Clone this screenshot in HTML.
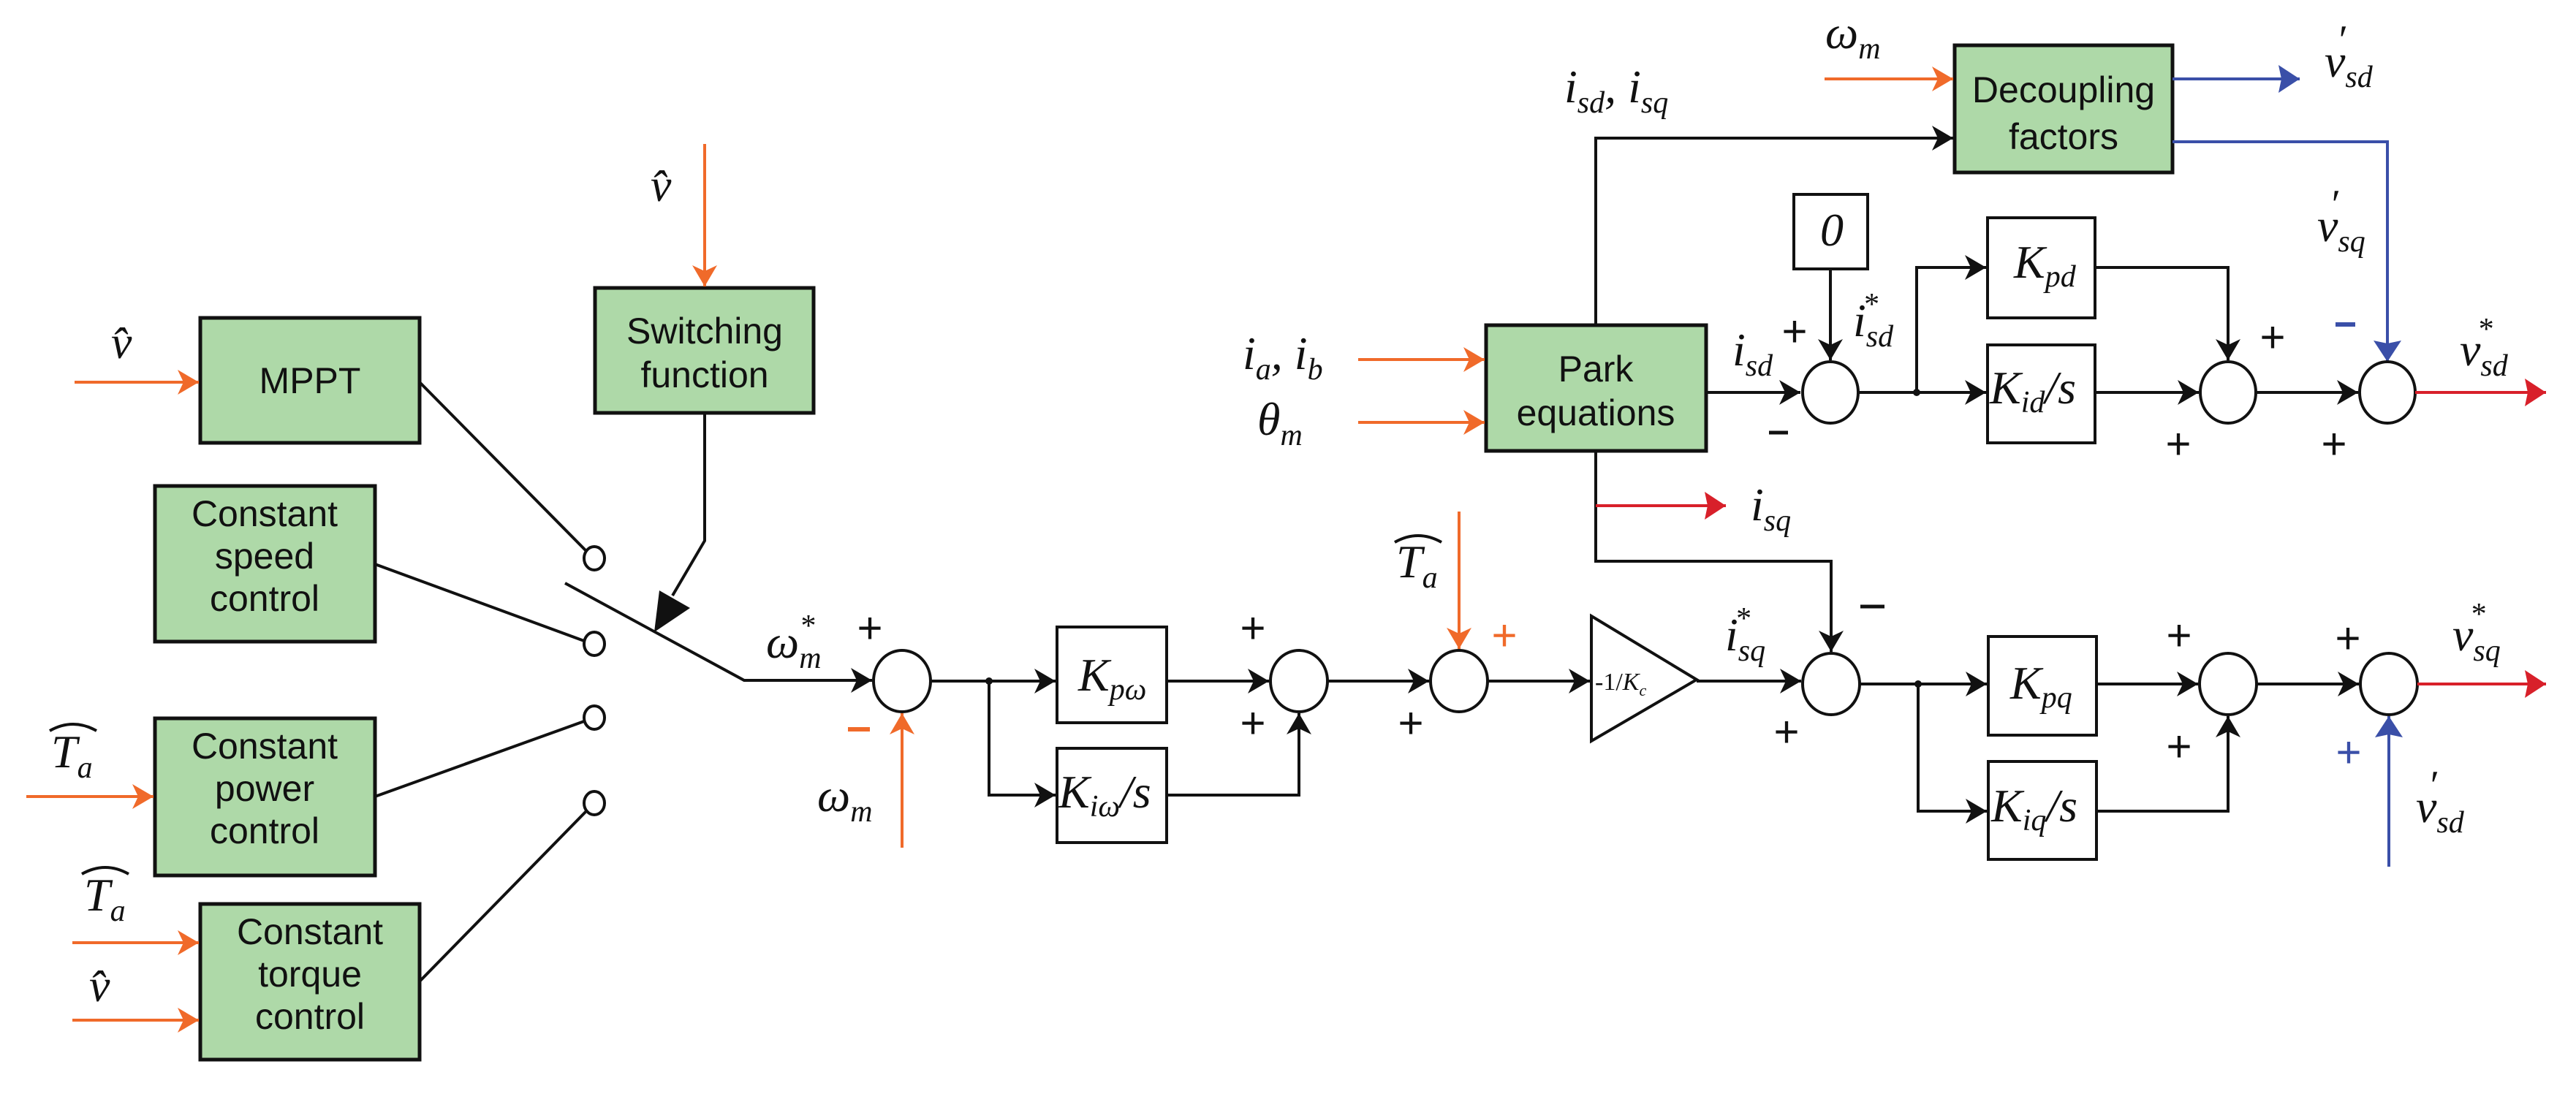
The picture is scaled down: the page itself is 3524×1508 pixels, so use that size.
<!DOCTYPE html>
<html><head><meta charset="utf-8"><style>
html,body{margin:0;padding:0;background:#fff;}
svg{display:block;}
.box{fill:#aed9a8;stroke:#111;stroke-width:5;}
.wb{fill:#fff;stroke:#111;stroke-width:4;}
.bt{font-family:"Liberation Sans",sans-serif;font-size:50px;fill:#111;text-anchor:middle;}
.m{font-family:"Liberation Serif",serif;font-style:italic;font-size:64px;fill:#111;}
.s{font-size:42px;}
.pr{font-size:56px;font-style:normal;}
.ln{stroke:#111;stroke-width:4;fill:none;}
.or{stroke:#f06a2a;stroke-width:4;fill:none;}
.rd{stroke:#d8202a;stroke-width:4;fill:none;}
.bl{stroke:#3a4fa8;stroke-width:4;fill:none;}
.pm{font-family:"Liberation Sans",sans-serif;font-size:60px;fill:#111;text-anchor:middle;}
.sum{fill:#fff;stroke:#111;stroke-width:4;}
</style></head><body>
<svg width="3524" height="1508" viewBox="0 0 3524 1508" xmlns="http://www.w3.org/2000/svg">
<defs>
<marker id="ak" markerWidth="10" markerHeight="10" refX="9" refY="5" orient="auto" markerUnits="userSpaceOnUse" viewBox="0 0 10 10" style="overflow:visible">
<path d="M-20,-12 L9,5 L-20,22 L-12,5 Z" fill="#111"/></marker>
<marker id="ao" markerWidth="10" markerHeight="10" refX="9" refY="5" orient="auto" markerUnits="userSpaceOnUse" viewBox="0 0 10 10" style="overflow:visible">
<path d="M-20,-12 L9,5 L-20,22 L-12,5 Z" fill="#f06a2a"/></marker>
<marker id="ar" markerWidth="10" markerHeight="10" refX="9" refY="5" orient="auto" markerUnits="userSpaceOnUse" viewBox="0 0 10 10" style="overflow:visible">
<path d="M-20,-14 L9,5 L-20,24 L-16,5 Z" fill="#d8202a"/></marker>
<marker id="ab" markerWidth="10" markerHeight="10" refX="9" refY="5" orient="auto" markerUnits="userSpaceOnUse" viewBox="0 0 10 10" style="overflow:visible">
<path d="M-20,-14 L9,5 L-20,24 L-16,5 Z" fill="#3a4fa8"/></marker>
</defs>

<!-- left blocks -->
<rect class="box" x="274" y="435" width="300" height="171"/>
<text class="bt" x="424" y="538">MPPT</text>
<rect class="box" x="814" y="394" width="299" height="171"/>
<text class="bt" x="964" y="470">Switching</text><text class="bt" x="964" y="530">function</text>
<rect class="box" x="212" y="665" width="301" height="213"/>
<text class="bt" x="362" y="720">Constant</text><text class="bt" x="362" y="778">speed</text><text class="bt" x="362" y="836">control</text>
<rect class="box" x="212" y="983" width="301" height="215"/>
<text class="bt" x="362" y="1038">Constant</text><text class="bt" x="362" y="1096">power</text><text class="bt" x="362" y="1154">control</text>
<rect class="box" x="274" y="1237" width="300" height="213"/>
<text class="bt" x="424" y="1292">Constant</text><text class="bt" x="424" y="1350">torque</text><text class="bt" x="424" y="1408">control</text>

<!-- inputs -->
<line class="or" x1="102" y1="523" x2="272" y2="523" marker-end="url(#ao)"/>
<text class="m" x="152" y="490">v̂</text>
<line class="or" x1="964" y1="197" x2="964" y2="392" marker-end="url(#ao)"/>
<text class="m" x="890" y="275">v̂</text>
<line class="or" x1="36" y1="1090" x2="210" y2="1090" marker-end="url(#ao)"/>
<text class="m" x="70" y="1050">T<tspan class="s" dy="14">a</tspan></text>
<path d="M68 1000 Q100 982 132 1000" class="ln" stroke-width="3"/>
<line class="or" x1="99" y1="1290" x2="272" y2="1290" marker-end="url(#ao)"/>
<text class="m" x="115" y="1246">T<tspan class="s" dy="14">a</tspan></text>
<path d="M112 1196 Q144 1178 176 1196" class="ln" stroke-width="3"/>
<line class="or" x1="99" y1="1396" x2="272" y2="1396" marker-end="url(#ao)"/>
<text class="m" x="122" y="1370">v̂</text>

<!-- switch -->
<line class="ln" x1="574" y1="523" x2="801" y2="753"/>
<line class="ln" x1="513" y1="772" x2="799" y2="877"/>
<line class="ln" x1="513" y1="1090" x2="799" y2="987"/>
<line class="ln" x1="574" y1="1343" x2="802" y2="1110"/>
<ellipse class="sum" cx="813" cy="764" rx="14" ry="16"/>
<ellipse class="sum" cx="813" cy="881" rx="14" ry="16"/>
<ellipse class="sum" cx="813" cy="982" rx="14" ry="16"/>
<ellipse class="sum" cx="813" cy="1099" rx="14" ry="16"/>
<polyline class="ln" points="773,798 1018,931 1190,931" />
<polyline class="ln" points="964,565 964,740 920,815"/>
<path d="M895,865 L902,808 L944,832 Z" fill="#111"/>
<text class="m" x="1048" y="900">ω<tspan class="s" dy="14">m</tspan><tspan class="s" dx="-30" dy="-44">*</tspan></text>
<text class="pm" x="1190" y="880">+</text>

<!-- speed loop -->
<ellipse class="sum" cx="1234" cy="932" rx="39" ry="42"/>
<line class="ln" x1="1100" y1="931" x2="1193" y2="931" marker-end="url(#ak)"/>
<line class="or" x1="1234" y1="1160" x2="1234" y2="976" marker-end="url(#ao)"/>
<line x1="1160" y1="998" x2="1190" y2="998" stroke="#f06a2a" stroke-width="6"/>
<text class="m" x="1118" y="1110">ω<tspan class="s" dy="14">m</tspan></text>
<line class="ln" x1="1273" y1="932" x2="1444" y2="932" marker-end="url(#ak)"/>
<circle cx="1353" cy="932" r="5" fill="#111"/>
<polyline class="ln" points="1353,932 1353,1088 1444,1088" marker-end="url(#ak)"/>
<rect class="wb" x="1446" y="858" width="150" height="131"/>
<text class="m" x="1475" y="945" font-size="54">K<tspan class="s" dy="12">pω</tspan></text>
<rect class="wb" x="1446" y="1024" width="150" height="129"/>
<text class="m" x="1448" y="1105" font-size="52">K<tspan class="s" dy="12">iω</tspan><tspan dy="-12">/s</tspan></text>
<line class="ln" x1="1596" y1="932" x2="1736" y2="932" marker-end="url(#ak)"/>
<polyline class="ln" points="1596,1088 1777,1088 1777,976" marker-end="url(#ak)"/>
<ellipse class="sum" cx="1777" cy="932" rx="39" ry="42"/>
<text class="pm" x="1714" y="880">+</text><text class="pm" x="1714" y="1010">+</text>
<line class="ln" x1="1816" y1="932" x2="1955" y2="932" marker-end="url(#ak)"/>
<ellipse class="sum" cx="1996" cy="932" rx="39" ry="42"/>
<line class="or" x1="1996" y1="700" x2="1996" y2="888" marker-end="url(#ao)"/>
<text class="m" x="1910" y="790">T<tspan class="s" dy="14">a</tspan></text>
<path d="M1908 742 Q1940 724 1972 742" class="ln" stroke-width="3"/>
<text class="pm" x="2058" y="890" style="fill:#f06a2a">+</text>
<text class="pm" x="1930" y="1010">+</text>
<line class="ln" x1="2035" y1="932" x2="2175" y2="932" marker-end="url(#ak)"/>
<path d="M2177,843 L2321,930 L2177,1014 Z" fill="#fff" stroke="#111" stroke-width="4"/>
<text x="2182" y="944" font-family="Liberation Serif,serif" font-size="34" fill="#111">-1/<tspan font-style="italic">K</tspan><tspan font-style="italic" font-size="22" dy="8">c</tspan></text>
<line class="ln" x1="2321" y1="932" x2="2464" y2="932" marker-end="url(#ak)"/>
<text class="m" x="2360" y="890">i<tspan class="s" dy="14">sq</tspan><tspan class="s" dx="-42" dy="-44">*</tspan></text>

<!-- q loop -->
<ellipse class="sum" cx="2505" cy="936" rx="39" ry="42"/>
<polyline class="ln" points="2183,617 2183,768 2505,768 2505,892" marker-end="url(#ak)"/>
<line x1="2545" y1="830" x2="2578" y2="830" stroke="#111" stroke-width="5"/>
<text class="pm" x="2444" y="1022">+</text>
<line class="ln" x1="2544" y1="936" x2="2718" y2="936" marker-end="url(#ak)"/>
<circle cx="2624" cy="936" r="5" fill="#111"/>
<polyline class="ln" points="2624,936 2624,1110 2718,1110" marker-end="url(#ak)"/>
<rect class="wb" x="2720" y="871" width="148" height="135"/>
<text class="m" x="2750" y="956" font-size="54">K<tspan class="s" dy="12">pq</tspan></text>
<rect class="wb" x="2720" y="1042" width="148" height="134"/>
<text class="m" x="2724" y="1124" font-size="52">K<tspan class="s" dy="12">iq</tspan><tspan dy="-12">/s</tspan></text>
<line class="ln" x1="2868" y1="936" x2="3007" y2="936" marker-end="url(#ak)"/>
<polyline class="ln" points="2868,1110 3048,1110 3048,980" marker-end="url(#ak)"/>
<ellipse class="sum" cx="3048" cy="936" rx="39" ry="42"/>
<text class="pm" x="2981" y="890">+</text><text class="pm" x="2981" y="1042">+</text>
<line class="ln" x1="3087" y1="936" x2="3227" y2="936" marker-end="url(#ak)"/>
<ellipse class="sum" cx="3268" cy="936" rx="39" ry="42"/>
<text class="pm" x="3212" y="894">+</text>
<text class="pm" x="3213" y="1050" style="fill:#3a4fa8">+</text>
<line class="bl" x1="3268" y1="1186" x2="3268" y2="980" marker-end="url(#ab)"/>
<text class="m" x="3305" y="1125">v<tspan class="s" dy="14">sd</tspan><tspan class="pr" dx="-46" dy="-46">′</tspan></text>
<line class="rd" x1="3307" y1="936" x2="3483" y2="936" marker-end="url(#ar)"/>
<text class="m" x="3355" y="890">v<tspan class="s" dy="14">sq</tspan><tspan class="s" dx="-42" dy="-50">*</tspan></text>

<!-- Park & decoupling -->
<rect class="box" x="2033" y="445" width="301" height="172"/>
<text class="bt" x="2183" y="522">Park</text><text class="bt" x="2183" y="582">equations</text>
<rect class="box" x="2674" y="62" width="298" height="174"/>
<text class="bt" x="2823" y="140">Decoupling</text><text class="bt" x="2823" y="204">factors</text>
<line class="or" x1="1858" y1="492" x2="2031" y2="492" marker-end="url(#ao)"/>
<line class="or" x1="1858" y1="578" x2="2031" y2="578" marker-end="url(#ao)"/>
<text class="m" x="1700" y="505">i<tspan class="s" dy="14">a</tspan><tspan dy="-14">, i</tspan><tspan class="s" dy="14">b</tspan></text>
<text class="m" x="1720" y="595">θ<tspan class="s" dy="14">m</tspan></text>
<polyline class="ln" points="2183,445 2183,189 2672,189" marker-end="url(#ak)"/>
<text class="m" x="2140" y="140">i<tspan class="s" dy="14">sd</tspan><tspan dy="-14">, i</tspan><tspan class="s" dy="14">sq</tspan></text>
<line class="or" x1="2496" y1="108" x2="2672" y2="108" marker-end="url(#ao)"/>
<text class="m" x="2497" y="66">ω<tspan class="s" dy="14">m</tspan></text>
<line class="bl" x1="2972" y1="108" x2="3146" y2="108" marker-end="url(#ab)"/>
<text class="m" x="3180" y="105">v<tspan class="s" dy="14">sd</tspan><tspan class="pr" dx="-46" dy="-46">′</tspan></text>
<polyline class="bl" points="2972,194 3266,194 3266,495" marker-end="url(#ab)"/>
<text class="m" x="3170" y="330">v<tspan class="s" dy="14">sq</tspan><tspan class="pr" dx="-46" dy="-46">′</tspan></text>
<line x1="3195" y1="444" x2="3222" y2="444" stroke="#3a4fa8" stroke-width="6"/>
<line class="rd" x1="2183" y1="692" x2="2361" y2="692" marker-end="url(#ar)"/>
<text class="m" x="2395" y="712">i<tspan class="s" dy="14">sq</tspan></text>

<!-- d loop -->
<line class="ln" x1="2334" y1="537" x2="2463" y2="537" marker-end="url(#ak)"/>
<text class="m" x="2370" y="500">i<tspan class="s" dy="14">sd</tspan></text>
<text class="pm" x="2455" y="474">+</text>
<line x1="2420" y1="592" x2="2446" y2="592" stroke="#111" stroke-width="5"/>
<rect class="wb" x="2454" y="266" width="101" height="102"/>
<text class="m" x="2490" y="336" font-style="normal" font-size="48">0</text>
<line class="ln" x1="2504" y1="368" x2="2504" y2="493" marker-end="url(#ak)"/>
<text class="m" x="2535" y="460">i<tspan class="s" dy="14">sd</tspan><tspan class="s" dx="-42" dy="-44">*</tspan></text>
<ellipse class="sum" cx="2504" cy="537" rx="38" ry="42"/>
<line class="ln" x1="2542" y1="537" x2="2717" y2="537" marker-end="url(#ak)"/>
<circle cx="2622" cy="537" r="5" fill="#111"/>
<polyline class="ln" points="2622,537 2622,366 2717,366" marker-end="url(#ak)"/>
<rect class="wb" x="2719" y="298" width="147" height="137"/>
<text class="m" x="2755" y="380" font-size="50">K<tspan class="s" dy="12">pd</tspan></text>
<rect class="wb" x="2719" y="472" width="147" height="134"/>
<text class="m" x="2722" y="552" font-size="50">K<tspan class="s" dy="12">id</tspan><tspan dy="-12">/s</tspan></text>
<polyline class="ln" points="2866,366 3048,366 3048,493" marker-end="url(#ak)"/>
<line class="ln" x1="2866" y1="537" x2="3008" y2="537" marker-end="url(#ak)"/>
<ellipse class="sum" cx="3048" cy="537" rx="38" ry="42"/>
<text class="pm" x="3109" y="482">+</text><text class="pm" x="2980" y="628">+</text>
<line class="ln" x1="3086" y1="537" x2="3226" y2="537" marker-end="url(#ak)"/>
<ellipse class="sum" cx="3266" cy="537" rx="38" ry="42"/>
<text class="pm" x="3193" y="628">+</text>
<line class="rd" x1="3304" y1="537" x2="3483" y2="537" marker-end="url(#ar)"/>
<text class="m" x="3365" y="500">v<tspan class="s" dy="14">sd</tspan><tspan class="s" dx="-42" dy="-50">*</tspan></text>
</svg>
</body></html>
